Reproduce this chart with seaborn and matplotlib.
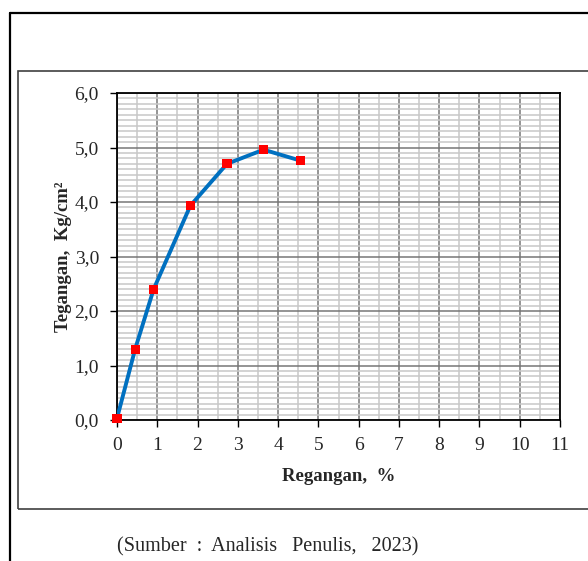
import matplotlib
matplotlib.use("Agg")
import matplotlib.pyplot as plt
import seaborn as sns
import numpy as np
import pandas as pd
from matplotlib.lines import Line2D
from matplotlib.patches import Rectangle
from matplotlib.ticker import MultipleLocator

# Data
regangan = [0.0, 0.45, 0.91, 1.82, 2.73, 3.64, 4.55]
tegangan = [0.03, 1.30, 2.40, 3.93, 4.70, 4.96, 4.76]
xtick_vals = list(range(0, 12))
xtick_labels = [str(v) for v in xtick_vals]
ytick_vals = [0.0, 1.0, 2.0, 3.0, 4.0, 5.0, 6.0]
ytick_labels = ["0,0", "1,0", "2,0", "3,0", "4,0", "5,0", "6,0"]
x_label = "Regangan,  %"
y_label = "Tegangan,  Kg/cm²"
caption = "(Sumber  :  Analisis   Penulis,   2023)"

sns.set_theme(style="white")
plt.rcParams['font.family'] = ['Liberation Serif', 'DejaVu Serif']

W, H = 588, 561
fig = plt.figure(figsize=(W / 100, H / 100), dpi=100)

def fx(px):
    return px / W

def fy(py):
    return 1 - py / H

ax = fig.add_axes([fx(117), fy(420), fx(560) - fx(117), fy(93) - fy(420)])

df = pd.DataFrame({"x": regangan, "y": tegangan})
sns.lineplot(data=df, x="x", y="y", ax=ax, color="#0070C0", linewidth=2.8,
             zorder=3, sort=False)
sns.scatterplot(data=df, x="x", y="y", ax=ax, color="#FF0000", marker="s",
                s=44, edgecolor="none", zorder=4, clip_on=False)

ax.set_xlim(0, 11)
ax.set_ylim(0, 6)
ax.set_xticks(xtick_vals)
ax.set_xticklabels(xtick_labels)
ax.set_yticks(ytick_vals)
ax.set_yticklabels(ytick_labels)
ax.xaxis.set_minor_locator(MultipleLocator(0.5))
ax.yaxis.set_minor_locator(MultipleLocator(0.1))

ax.grid(which="minor", color="#c8c8c8", linewidth=1.1, zorder=0)
ax.grid(which="major", color="#767676", linewidth=1.1, zorder=1)
ax.set_axisbelow(True)

for s in ax.spines.values():
    s.set_color("black")
    s.set_linewidth(1.3)

ax.tick_params(axis="both", which="major", direction="out", length=5,
               width=1.0, color="black", labelsize=14, pad=8,
               bottom=True, left=True)
ax.tick_params(axis="x", which="major", pad=7)
ax.tick_params(which="minor", length=0)

ax.set_xlabel(x_label, fontsize=13.5, fontweight="bold", labelpad=10)
ax.set_ylabel(y_label, fontsize=13.5, fontweight="bold", labelpad=2)

# outer frame lines
fig.add_artist(Line2D([fx(10), fx(10)], [fy(13), fy(561)], color="black",
                      linewidth=1.6, transform=fig.transFigure))
fig.add_artist(Line2D([fx(10), fx(588)], [fy(13), fy(13)], color="black",
                      linewidth=1.6, transform=fig.transFigure))
# inner chart box
fig.add_artist(Rectangle((fx(18), fy(509)), fx(600) - fx(18), fy(71) - fy(509),
                         fill=False, edgecolor="#404040", linewidth=1.2,
                         transform=fig.transFigure))

fig.text(fx(268), fy(547), caption, ha="center", va="center", fontsize=14.5)

fig.savefig("out.png", dpi=100)
